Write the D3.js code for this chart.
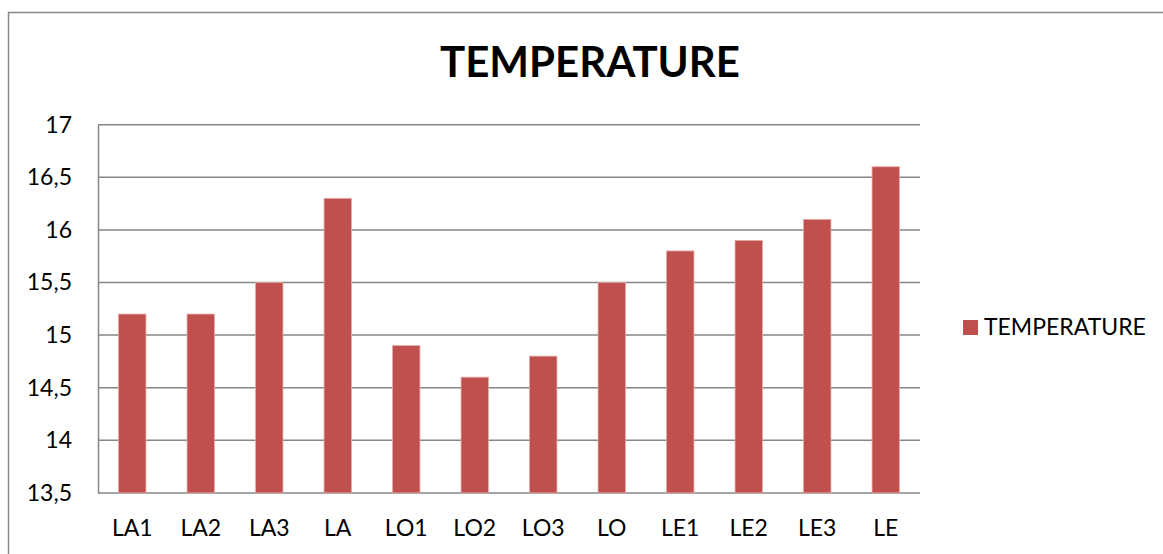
<html>
<head>
    <script src="https://d3js.org/d3.v7.min.js"></script>
    <style type="text/css">
        body { margin: 0; background: #fff; }
        svg { display: block; }
        text { font-family: Lato, "Liberation Sans", sans-serif; fill: #000; }
    </style>
</head>
<body>
    <script type="text/javascript">
        var categories = ["LA1", "LA2", "LA3", "LA", "LO1", "LO2", "LO3", "LO", "LE1", "LE2", "LE3", "LE"];
        var temperature = [15.2, 15.2, 15.5, 16.3, 14.9, 14.6, 14.8, 15.5, 15.8, 15.9, 16.1, 16.6];
        var yTicks = [13.5, 14, 14.5, 15, 15.5, 16, 16.5, 17];
        var seriesName = "TEMPERATURE";

        var width = 1163, height = 554;
        var plot = {left: 98, right: 920, top: 124.7, bottom: 492.9};
        var labelSize = "23px";

        var svg = d3.select("body").append("svg")
            .attr("width", width)
            .attr("height", height);

        // chart frame (cut off at right and bottom)
        svg.append("rect")
            .attr("x", 8.5).attr("y", 12.5)
            .attr("width", 1300).attr("height", 700)
            .attr("fill", "none")
            .attr("stroke", "#868686")
            .attr("stroke-width", 1.5);

        var x = d3.scaleBand()
            .domain(categories)
            .range([plot.left, plot.right])
            .paddingInner(0.6)
            .paddingOuter(0.3);

        var y = d3.scaleLinear()
            .domain([13.5, 17])
            .range([plot.bottom, plot.top]);

        // gridlines
        svg.append("g")
            .selectAll("line")
            .data(yTicks)
            .enter()
            .append("line")
            .attr("x1", plot.left).attr("x2", plot.right)
            .attr("y1", function (d) { return y(d); })
            .attr("y2", function (d) { return y(d); })
            .attr("stroke", "#868686")
            .attr("stroke-width", 1.5);

        // y axis labels
        var yAxis = d3.axisLeft(y)
            .tickValues(yTicks)
            .tickSize(0)
            .tickPadding(26)
            .tickFormat(function (d) { return String(d).replace(".", ","); });
        var yg = svg.append("g")
            .attr("transform", "translate(" + plot.left + ",0)")
            .call(yAxis);
        yg.select(".domain")
            .attr("stroke", "#868686")
            .attr("stroke-width", 1.5);
        yg.selectAll("text")
            .style("font-size", labelSize)
            .style("font-family", "Lato, 'Liberation Sans', sans-serif")
            .attr("fill", "#000");

        // x axis labels
        var xAxis = d3.axisBottom(x).tickSize(0).tickPadding(27);
        var xg = svg.append("g")
            .attr("transform", "translate(0," + plot.bottom + ")")
            .call(xAxis);
        xg.select(".domain").remove();
        xg.selectAll("text")
            .style("font-size", labelSize)
            .style("font-family", "Lato, 'Liberation Sans', sans-serif")
            .attr("fill", "#000");

        // bars
        svg.append("g")
            .selectAll("rect")
            .data(temperature)
            .enter()
            .append("rect")
            .attr("x", function (d, i) { return x(categories[i]); })
            .attr("y", function (d) { return y(d); })
            .attr("width", x.bandwidth())
            .attr("height", function (d) { return plot.bottom - y(d); })
            .attr("fill", "#C0504D")
            .attr("stroke", "#E4A9A7")
            .attr("stroke-width", 0.8);

        // title
        svg.append("text")
            .attr("x", 590)
            .attr("y", 77)
            .attr("text-anchor", "middle")
            .style("font-size", "42px")
            .style("font-weight", "bold")
            .text("TEMPERATURE");

        // legend
        var legend = svg.append("g").attr("transform", "translate(963,320)");
        legend.append("rect")
            .attr("width", 15).attr("height", 15)
            .attr("fill", "#C0504D");
        legend.append("text")
            .attr("x", 21)
            .attr("y", 15)
            .style("font-size", labelSize)
            .text(seriesName);
    </script>
</body>
</html>
